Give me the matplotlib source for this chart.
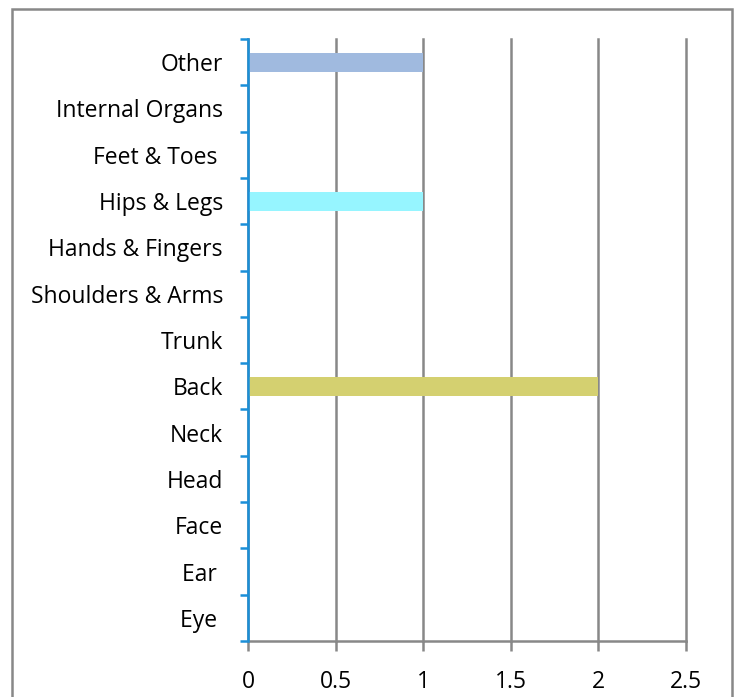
import numpy as np
import matplotlib.pyplot as plt
from matplotlib.patches import Rectangle

# Injury counts by body part (bottom to top)
body_parts = ['Eye ', 'Ear ', 'Face', 'Head', 'Neck', 'Back', 'Trunk',
              'Shoulders & Arms', 'Hands & Fingers', 'Hips & Legs',
              'Feet & Toes ', 'Internal Organs', 'Other']
counts = [0, 0, 0, 0, 0, 2, 0, 0, 0, 1, 0, 0, 1]
bar_colors = ['#A0BADF'] * 13
bar_colors[5] = '#D4D070'
bar_colors[9] = '#96F5FF'
bar_colors[12] = '#A0BADF'
x_ticks = [0, 0.5, 1, 1.5, 2, 2.5]
x_tick_labels = ['0', '0.5', '1', '1.5', '2', '2.5']

plt.rcParams['font.family'] = ['Open Sans', 'DejaVu Sans']

fig = plt.figure(figsize=(7.38, 6.97), dpi=100)
ax = fig.add_axes([248/738, 1 - 641/697, (686 - 248)/738, (641 - 39)/697])

ypos = np.arange(len(body_parts))
ax.barh(ypos, counts, height=0.41, color=bar_colors, zorder=3)

ax.set_xlim(0, 2.5)
ax.set_ylim(-0.5, len(body_parts) - 0.5)
ax.set_xticks(x_ticks)
ax.set_xticklabels(x_tick_labels, fontsize=16.5)
ax.set_yticks(ypos)
ax.set_yticklabels(body_parts, fontsize=16.5)
ax.set_yticks(np.arange(len(body_parts) + 1) - 0.5, minor=True)

ax.grid(axis='x', color='#888888', linewidth=1.8, zorder=1)
ax.grid(axis='y', visible=False)
for gl in ax.get_xgridlines():
    gl.set_clip_on(False)

for side in ['top', 'right']:
    ax.spines[side].set_visible(False)
ax.spines['bottom'].set_color('#888888')
ax.spines['bottom'].set_linewidth(1.8)
ax.spines['left'].set_color('#1A8FD8')
ax.spines['left'].set_linewidth(1.8)
ax.spines['left'].set_zorder(4)

ax.tick_params(axis='x', length=7, width=1.8, color='#888888', pad=14)
ax.tick_params(axis='y', which='major', length=0, pad=18)
ax.tick_params(axis='y', which='minor', length=6, width=1.8, color='#1A8FD8')

# outer frame around the chart
fig.patches.append(Rectangle((12/738, -0.05), (732 - 12)/738, 1.05 - 9/697,
                             transform=fig.transFigure, fill=False,
                             edgecolor='#888888', linewidth=1.8))

fig.savefig('out.png', dpi=100)
